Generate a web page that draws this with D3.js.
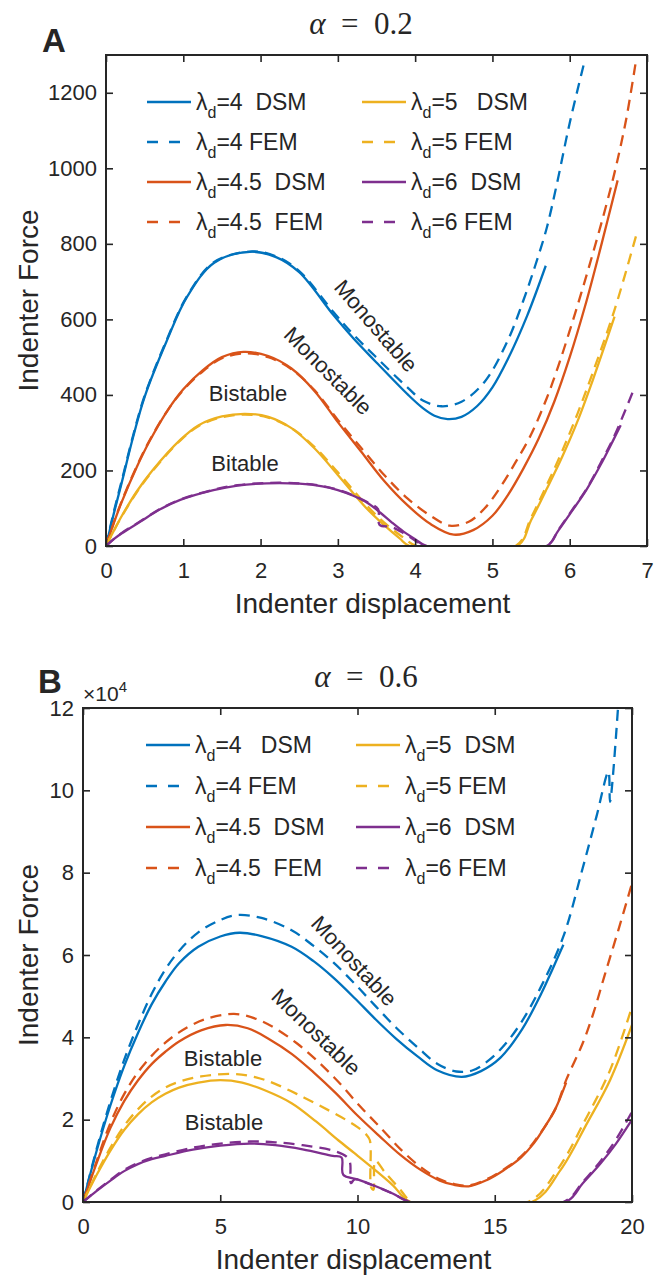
<!DOCTYPE html>
<html>
<head>
<meta charset="utf-8">
<script src="https://cdn.jsdelivr.net/npm/d3@7"></script>
<style>
  body { margin: 0; background: #fff; }
  svg text { font-family: "Liberation Sans", Arial, Helvetica, sans-serif; fill: #262626; white-space: pre; }
</style>
</head>
<body>
<svg id="fig" width="654" height="1278"></svg>
<script>
// ---- Panel A data (alpha = 0.2), [displacement, force] ----
const A_L4_DSM = [[0,0],[0.1,85],[0.2,165],[0.35,288],[0.5,395],[0.78,540],[1.05,660],[1.4,750],[1.86,779],[2.2,765],[2.5,725],[2.94,612],[3.2,550],[3.48,490],[3.91,400],[4.1,365],[4.25,345],[4.42,336],[4.6,342],[4.8,370],[5.0,420],[5.2,495],[5.45,610],[5.69,742]];
const A_L4_FEM = [[0,0],[0.1,90],[0.2,170],[0.35,292],[0.5,398],[0.78,543],[1.05,662],[1.4,752],[1.9,780],[2.2,767],[2.5,728],[2.94,620],[3.2,560],[3.48,503],[3.91,418],[4.1,385],[4.34,370],[4.6,382],[4.9,435],[5.2,545],[5.4,650],[5.55,740],[5.7,840],[5.83,955],[6.0,1120],[6.2,1290]];
const A_L45_DSM = [[0,0],[0.1,60],[0.2,115],[0.4,210],[0.57,280],[0.8,360],[1.0,415],[1.25,465],[1.5,500],[1.78,514],[2.1,503],[2.4,470],[2.7,410],[3.0,328],[3.3,250],[3.6,172],[3.9,108],[4.2,58],[4.5,30],[4.75,42],[5.0,80],[5.2,135],[5.4,205],[5.6,285],[5.8,382],[6.0,500],[6.2,636],[6.4,790],[6.62,968]];
const A_L45_FEM = [[0,0],[0.1,62],[0.2,117],[0.4,212],[0.57,282],[0.8,360],[1.0,413],[1.25,462],[1.5,497],[1.8,510],[2.1,500],[2.4,468],[2.7,412],[3.0,334],[3.3,260],[3.6,188],[3.9,126],[4.2,80],[4.45,54],[4.7,65],[4.9,100],[5.1,155],[5.3,222],[5.5,295],[5.7,390],[5.85,475],[6.0,570],[6.15,670],[6.3,775],[6.45,885],[6.57,980],[6.66,1060],[6.74,1140],[6.85,1275]];
const A_L5_DSM = [[0,0],[0.1,40],[0.2,78],[0.4,145],[0.6,200],[0.96,281],[1.2,320],[1.5,343],[1.8,350],[2.1,342],[2.4,312],[2.7,258],[3.0,188],[3.37,100],[3.6,55],[3.8,20],[3.93,0],[5.32,0],[5.5,68],[5.7,150],[5.9,235],[6.1,330],[6.3,440],[6.58,607]];
const A_L5_FEM = [[0,0],[0.1,40],[0.2,77],[0.4,143],[0.6,198],[0.96,279],[1.2,318],[1.5,341],[1.8,348],[2.1,340],[2.4,312],[2.7,262],[3.0,195],[3.37,108],[3.6,62],[3.85,22],[4.02,0],[5.3,0],[5.5,75],[5.7,160],[5.9,250],[6.1,350],[6.3,460],[6.58,625],[6.88,837]];
const A_L6_DSM = [[0,0],[0.1,18],[0.2,33],[0.44,64],[0.7,97],[0.96,122],[1.39,148],[1.7,160],[2.08,166],[2.5,165],[2.8,158],[3.0,148],[3.2,133],[3.4,112],[3.55,88],[3.7,62],[3.85,38],[4.0,18],[4.15,0],[5.7,0],[5.85,40],[6.01,87],[6.22,150],[6.4,215],[6.57,283],[6.66,320]];
const A_L6_FEM = [[0,0],[0.1,18],[0.2,34],[0.44,65],[0.7,98],[0.96,123],[1.39,149],[1.7,161],[2.08,167],[2.5,166],[2.8,159],[3.0,149],[3.2,134],[3.4,114],[3.52,98],[3.54,56],[3.7,50],[3.9,28],[4.15,0],[5.7,0],[5.85,42],[6.01,89],[6.22,152],[6.4,220],[6.57,288],[6.82,410]];

// ---- Panel B data (alpha = 0.6), force in units of 1e4 ----
const B_L4_DSM = [[0,0],[0.5,1.25],[1.0,2.35],[1.5,3.3],[2.0,4.1],[2.5,4.8],[3.0,5.35],[3.5,5.8],[4.2,6.2],[5.0,6.45],[5.7,6.54],[6.5,6.46],[7.6,6.2],[8.4,5.85],[9.12,5.45],[9.9,4.95],[10.64,4.45],[11.4,3.97],[12.2,3.53],[12.9,3.2],[13.8,3.04],[14.5,3.18],[15.2,3.5],[16.0,4.2],[16.7,5.07],[17.1,5.65],[17.5,6.25]];
const B_L4_FEM = [[0,0],[0.5,1.3],[1.0,2.45],[1.5,3.45],[2.0,4.3],[2.5,5.05],[3.0,5.65],[3.5,6.1],[4.2,6.55],[5.0,6.85],[5.6,6.97],[6.5,6.9],[7.6,6.6],[8.4,6.22],[9.12,5.82],[9.9,5.3],[10.64,4.77],[11.4,4.24],[12.2,3.75],[12.9,3.36],[13.6,3.17],[14.2,3.2],[14.8,3.45],[15.4,3.85],[16.0,4.4],[16.7,5.25],[17.5,6.45],[18.2,8.1],[18.7,9.35],[19.14,10.45],[19.2,9.72],[19.5,12.1]];
const B_L45_DSM = [[0,0],[0.5,0.95],[1.0,1.8],[1.5,2.45],[2.0,2.95],[2.5,3.35],[3.0,3.65],[3.5,3.9],[4.3,4.17],[5.2,4.3],[6.0,4.22],[6.8,3.95],[7.6,3.6],[8.4,3.15],[9.2,2.65],[10.0,2.1],[10.8,1.6],[11.55,1.15],[12.3,0.78],[13.0,0.52],[13.5,0.42],[14.05,0.38],[14.7,0.53],[15.3,0.76],[15.95,1.08],[16.43,1.43],[16.8,1.8],[17.2,2.25],[17.6,2.9]];
const B_L45_FEM = [[0,0],[0.5,1.0],[1.0,1.92],[1.5,2.62],[2.0,3.15],[2.5,3.55],[3.0,3.87],[3.5,4.12],[4.4,4.43],[5.5,4.57],[6.3,4.45],[7.0,4.22],[7.8,3.85],[8.5,3.45],[9.3,2.92],[10.1,2.32],[10.9,1.76],[11.6,1.26],[12.3,0.85],[13.0,0.55],[13.5,0.44],[14.05,0.4],[14.7,0.55],[15.3,0.78],[15.95,1.1],[16.43,1.46],[17.2,2.25],[17.6,2.96],[18.2,3.85],[18.6,4.6],[19.0,5.5],[19.5,6.6],[20.0,7.74]];
const B_L5_DSM = [[0,0],[0.5,0.66],[1.0,1.25],[1.5,1.75],[2.0,2.13],[2.5,2.42],[3.0,2.63],[3.5,2.78],[4.2,2.9],[5.0,2.96],[5.8,2.9],[6.6,2.72],[7.6,2.4],[8.5,1.95],[9.3,1.5],[9.9,1.18],[10.6,0.8],[11.3,0.4],[11.93,0],[16.35,0],[17.4,0.78],[18.36,1.91],[19.2,2.96],[20.0,4.3]];
const B_L5_FEM = [[0,0],[0.5,0.7],[1.0,1.32],[1.5,1.85],[2.0,2.25],[2.5,2.56],[3.0,2.78],[3.5,2.92],[4.3,3.05],[5.5,3.11],[6.3,3.03],[7.0,2.87],[7.8,2.62],[8.6,2.35],[9.57,2.0],[10.0,1.82],[10.33,1.63],[10.45,1.5],[10.5,0.35],[10.58,0.3],[10.65,1.0],[11.0,0.72],[11.5,0.35],[12.02,0],[16.2,0],[17.3,0.8],[18.3,2.0],[19.2,3.2],[20.0,4.74]];
const B_L6_DSM = [[0,0],[0.5,0.27],[1.0,0.52],[1.5,0.75],[2.0,0.92],[2.5,1.04],[3.0,1.12],[4.0,1.27],[5.0,1.37],[6.08,1.42],[7.0,1.38],[8.0,1.28],[9.1,1.12],[9.42,1.08],[9.48,0.66],[10.0,0.55],[10.6,0.4],[11.3,0.2],[11.93,0],[17.58,0],[18.2,0.45],[18.86,0.94],[19.4,1.4],[20.0,2.0]];
const B_L6_FEM = [[0,0],[0.5,0.28],[1.0,0.54],[1.5,0.78],[2.0,0.95],[2.5,1.07],[3.0,1.16],[4.0,1.32],[5.0,1.42],[6.08,1.47],[7.0,1.45],[8.0,1.38],[9.1,1.25],[9.6,1.1],[9.73,0.95],[9.76,0.46],[9.9,0.55],[10.5,0.42],[11.3,0.2],[11.95,0],[17.5,0],[18.2,0.48],[18.86,1.0],[19.4,1.5],[20.0,2.19]];

// ---- axes ticks and labels ----
const A_xTicks = [0, 1, 2, 3, 4, 5, 6, 7];
const A_yTicks = [0, 200, 400, 600, 800, 1000, 1200];
const B_xTicks = [0, 5, 10, 15, 20];
const B_yTicks = [0, 2, 4, 6, 8, 10, 12];

const A_legend = ["=4  DSM", "=4 FEM", "=4.5  DSM", "=4.5  FEM", "=5   DSM", "=5 FEM", "=6  DSM", "=6 FEM"];
const B_legend = ["=4   DSM", "=4 FEM", "=4.5  DSM", "=4.5  FEM", "=5  DSM", "=5 FEM", "=6  DSM", "=6 FEM"];

const colors = ["#0072BD", "#D95319", "#EDB120", "#7E2F8E"];
const ink = "#262626";

const svg = d3.select("#fig");

function drawPanel(p) {
    const x = d3.scaleLinear().domain(p.xDomain).range([p.left, p.right]);
    const y = d3.scaleLinear().domain(p.yDomain).range([p.bottom, p.top]);
    const g = svg.append("g");

    g.append("clipPath").attr("id", p.id + "clip")
        .append("rect")
        .attr("x", p.left).attr("y", p.top - 1)
        .attr("width", p.right - p.left).attr("height", p.bottom - p.top + 1);

    // curves
    const line = d3.line().x(d => x(d[0])).y(d => y(d[1])).curve(d3.curveCatmullRom.alpha(0.5));
    const curves = g.append("g").attr("clip-path", `url(#${p.id}clip)`);
    p.series.forEach((s, i) => {
        curves.append("path")
            .attr("d", line(s))
            .attr("fill", "none")
            .attr("stroke", colors[Math.floor(i / 2)])
            .attr("stroke-width", 2.3)
            .attr("stroke-dasharray", i % 2 ? "11,7" : null);
    });

    // axes (ticks inward on all four sides)
    const gx = g.append("g").attr("transform", `translate(0,${p.bottom})`)
        .call(d3.axisBottom(x).tickValues(p.xTicks).tickSize(-7).tickPadding(16).tickFormat(d3.format("d")));
    const gy = g.append("g").attr("transform", `translate(${p.left},0)`)
        .call(d3.axisLeft(y).tickValues(p.yTicks).tickSize(-7).tickPadding(9).tickFormat(d3.format("d")));
    const gt = g.append("g").attr("transform", `translate(0,${p.top})`)
        .call(d3.axisTop(x).tickValues(p.xTicks).tickSize(-7).tickFormat(""));
    const gr = g.append("g").attr("transform", `translate(${p.right},0)`)
        .call(d3.axisRight(y).tickValues(p.yTicks).tickSize(-7).tickFormat(""));
    [gx, gy, gt, gr].forEach(a => {
        a.select(".domain").remove();
        a.selectAll("line").attr("stroke", ink).attr("stroke-width", 1.6);
        a.selectAll("text").style("font-size", "22px").attr("fill", ink)
            .style("font-family", '"Liberation Sans", Arial, sans-serif');
    });

    g.append("rect")
        .attr("x", p.left).attr("y", p.top)
        .attr("width", p.right - p.left).attr("height", p.bottom - p.top)
        .attr("fill", "none").attr("stroke", ink).attr("stroke-width", 2);

    // axis titles
    g.append("text")
        .attr("x", (p.left + p.right) / 2 - 4).attr("y", p.bottom + 67)
        .attr("text-anchor", "middle").style("font-size", "28px")
        .text("Indenter displacement");
    g.append("text")
        .attr("transform", `translate(38,${(p.top + p.bottom) / 2}) rotate(-90)`)
        .attr("text-anchor", "middle").style("font-size", "28px")
        .text("Indenter Force");

    // title
    const t = g.append("text")
        .attr("x", p.titleX).attr("y", p.titleY)
        .attr("text-anchor", "middle")
        .style("font-family", '"Liberation Serif", "DejaVu Serif", serif')
        .style("font-size", "31px");
    t.append("tspan").style("font-style", "italic").text("α");
    t.append("tspan").text("  =  0." + p.alpha);

    // panel letter
    g.append("text")
        .attr("x", p.letterX).attr("y", p.letterY)
        .style("font-size", "33px").style("font-weight", "bold").attr("fill", "#000")
        .text(p.letter);

    // legend
    p.legend.forEach((label, i) => {
        const col = Math.floor(i / 4), row = i % 4;
        const ly = p.legendY + row * p.legendStep;
        const lx = p.legendX[col];
        g.append("line")
            .attr("x1", lx).attr("x2", lx + 44)
            .attr("y1", ly).attr("y2", ly)
            .attr("stroke", colors[Math.floor(i / 2)])
            .attr("stroke-width", 2.3)
            .attr("stroke-dasharray", i % 2 ? "11,11" : null);
        const tx = g.append("text").attr("x", lx + 49).attr("y", ly + 8).style("font-size", "23px");
        tx.append("tspan").text("λ");
        tx.append("tspan").attr("dy", 8).style("font-size", "16px").text("d");
        tx.append("tspan").attr("dy", -8).text(label);
    });

    // annotations
    p.notes.forEach(n => {
        g.append("text")
            .attr("transform", `translate(${n[1]},${n[2]}) rotate(${n[3]})`)
            .attr("text-anchor", "middle").attr("dominant-baseline", "central")
            .style("font-size", "22px")
            .text(n[0]);
    });

    if (p.exponent) {
        const e = g.append("text").attr("x", p.left).attr("y", p.top - 7).style("font-size", "21px");
        e.append("tspan").text("×10");
        e.append("tspan").attr("dy", -9).style("font-size", "15px").text("4");
    }
}

drawPanel({
    id: "A", left: 106, right: 647, top: 55, bottom: 546,
    xDomain: [0, 7], yDomain: [0, 1300], xTicks: A_xTicks, yTicks: A_yTicks,
    series: [A_L4_DSM, A_L4_FEM, A_L45_DSM, A_L45_FEM, A_L5_DSM, A_L5_FEM, A_L6_DSM, A_L6_FEM],
    legend: A_legend, legendX: [147, 362], legendY: 102, legendStep: 40,
    titleX: 361, titleY: 34, alpha: "2", letter: "A", letterX: 42, letterY: 52,
    notes: [["Monostable", 376, 326, 49], ["Monostable", 328, 371, 45], ["Bistable", 248, 393, 0], ["Bitable", 245, 463, 0]]
});

drawPanel({
    id: "B", left: 83, right: 632, top: 708, bottom: 1202,
    xDomain: [0, 20], yDomain: [0, 12], xTicks: B_xTicks, yTicks: B_yTicks,
    series: [B_L4_DSM, B_L4_FEM, B_L45_DSM, B_L45_FEM, B_L5_DSM, B_L5_FEM, B_L6_DSM, B_L6_FEM],
    legend: B_legend, legendX: [146, 356], legendY: 745, legendStep: 41,
    titleX: 366, titleY: 687, alpha: "6", letter: "B", letterX: 38, letterY: 693, exponent: true,
    notes: [["Monostable", 354, 961, 47], ["Monostable", 316, 1032, 44], ["Bistable", 223, 1058, 0], ["Bistable", 224, 1122, 0]]
});
</script>
</body>
</html>
